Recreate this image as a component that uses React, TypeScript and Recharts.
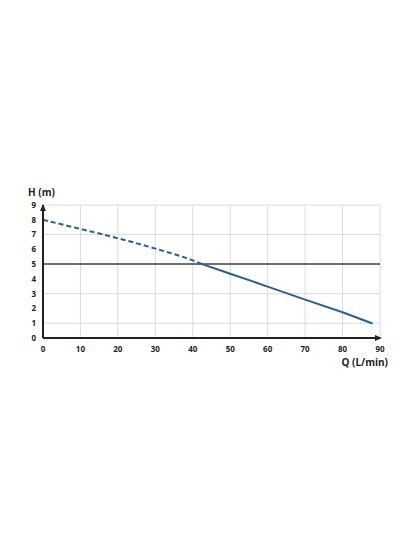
import { LineChart, Line, XAxis, YAxis, CartesianGrid, ReferenceLine, ReferenceDot } from 'recharts';

// caudal Q (L/min) y altura H (m)
const flowQ = [0, 10, 20, 30, 40, 42.5, 50, 60, 70, 80, 88];
const headDashed = [8, 7.38, 6.75, 6.05, 5.25, 5.0, null, null, null, null, null];
const headSolid = [null, null, null, null, null, 5.0, 4.35, 3.48, 2.6, 1.74, 0.98];
const xTicks = [0, 10, 20, 30, 40, 50, 60, 70, 80, 90];
const yTicks = [0, 1, 2, 3, 4, 5, 6, 7, 8, 9];
const workingHead = 5;

const BLUE = '#2a5f93';
const FONT = '"Open Sans", "DejaVu Sans", sans-serif';

const data = flowQ.map((q, i) => ({ q, dashed: headDashed[i], solid: headSolid[i] }));

const tickStyle = { fontSize: 8, fontWeight: 700, fill: '#222', fontFamily: FONT };

function UpArrow(props: any) {
  const { cx, cy } = props;
  return <path d={`M${cx - 3},${cy + 6} L${cx},${cy - 1} L${cx + 3},${cy + 6} Z`} fill="#222" />;
}

function RightArrow(props: any) {
  const { cx, cy } = props;
  return <path d={`M${cx - 5},${cy - 3} L${cx + 2},${cy} L${cx - 5},${cy + 3} Z`} fill="#222" />;
}

export default function App() {
  return (
    <div style={{ position: 'absolute', left: 0, top: 0, width: 400, height: 537, background: '#fff' }}>
      <LineChart
        width={400}
        height={537}
        data={data}
        margin={{ top: 205, right: 20, left: 28, bottom: 179 }}
      >
        <CartesianGrid stroke="#dcdcdc" strokeWidth={1} />
        <XAxis
          dataKey="q"
          type="number"
          domain={[0, 90]}
          ticks={xTicks}
          height={20}
          tick={tickStyle}
          tickLine={false}
          tickSize={0}
          tickMargin={8}
          axisLine={{ stroke: '#222', strokeWidth: 2 }}
        />
        <YAxis
          type="number"
          domain={[0, 9]}
          ticks={yTicks}
          width={15}
          tick={tickStyle}
          tickLine={false}
          tickSize={0}
          tickMargin={7}
          axisLine={{ stroke: '#222', strokeWidth: 2 }}
        />
        <ReferenceLine y={workingHead} stroke="#444" strokeWidth={1.5} />
        <Line
          dataKey="dashed"
          type="monotone"
          stroke={BLUE}
          strokeWidth={2}
          strokeDasharray="5 3"
          dot={false}
          connectNulls={false}
          isAnimationActive={false}
        />
        <Line
          dataKey="solid"
          type="linear"
          stroke={BLUE}
          strokeWidth={2}
          dot={false}
          connectNulls={false}
          isAnimationActive={false}
        />
        <ReferenceDot x={0} y={9} r={0} shape={UpArrow} ifOverflow="visible" />
        <ReferenceDot x={90} y={0} r={0} shape={RightArrow} ifOverflow="visible" />
      </LineChart>
      <span style={{ position: 'absolute', left: 28, top: 185, fontSize: 10, fontWeight: 700, fontFamily: FONT, color: '#222' }}>
        H (m)
      </span>
      <span style={{ position: 'absolute', right: 12, top: 355, fontSize: 10, fontWeight: 700, fontFamily: FONT, color: '#222' }}>
        Q (L/min)
      </span>
    </div>
  );
}
